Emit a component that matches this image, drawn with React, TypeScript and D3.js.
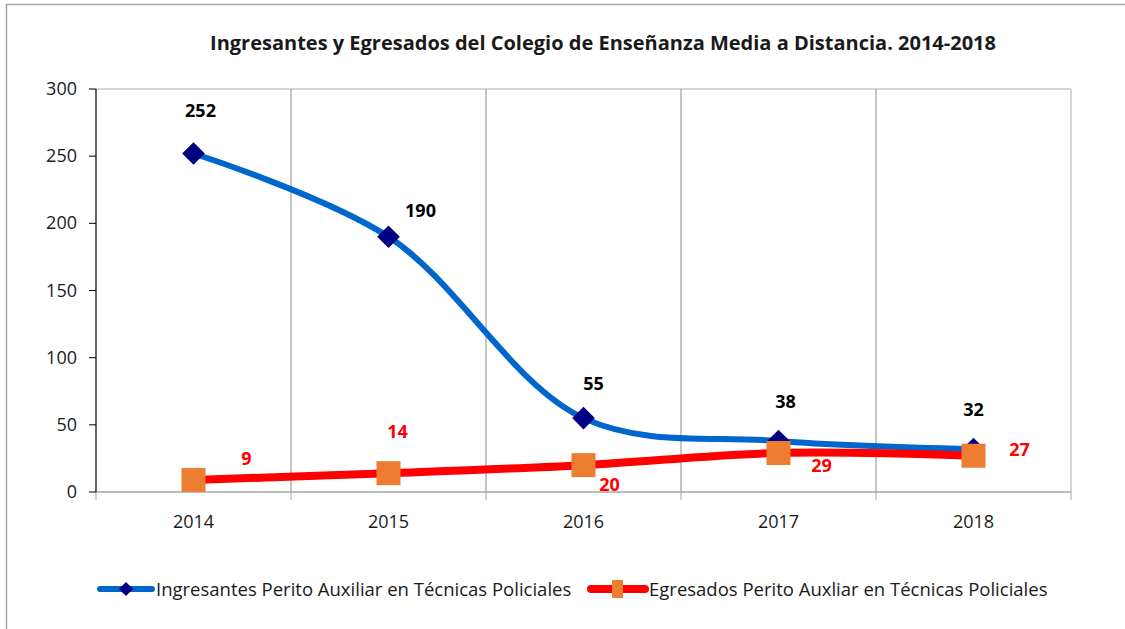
import React from "react";
import * as d3 from "d3";

const years = ["2014", "2015", "2016", "2017", "2018"];
const ingresantes = [252, 190, 55, 38, 32];
const egresados = [9, 14, 20, 29, 27];
const yTicks = [0, 50, 100, 150, 200, 250, 300];
const titleText = "Ingresantes y Egresados del Colegio de Enseñanza Media a Distancia. 2014-2018";
const legendIngresantes = "Ingresantes Perito Auxiliar en Técnicas Policiales";
const legendEgresados = "Egresados Perito Auxliar en Técnicas Policiales";

// label offsets (px) relative to the point
const ingLabelOffsets: [number, number][] = [[7, -36], [32, -20], [10, -28], [7, -33], [0, -33]];
const egrLabelOffsets: [number, number][] = [[53, -15], [9, -35], [26, 26], [43, 19], [46, 0]];

const W = 1125, H = 629;
const L = 96, R = 1071, T = 89, B = 492;
const FONT = "'Open Sans', Lato, sans-serif";

export default function App() {
  const x = d3.scaleBand().domain(years).range([L, R]).padding(0);
  const y = d3.scaleLinear().domain([0, 300]).range([B, T]);
  const cx = (yr: string) => (x(yr) as number) + x.bandwidth() / 2;

  const line = d3.line<[number, number]>().x(d => d[0]).y(d => d[1]).curve(d3.curveCatmullRom.alpha(0.5));
  const ingPts: [number, number][] = years.map((yr, i) => [cx(yr), y(ingresantes[i])]);
  const egrPts: [number, number][] = years.map((yr, i) => [cx(yr), y(egresados[i])]);
  const boundaries = d3.range(years.length + 1).map(i => L + i * x.bandwidth());

  return (
    <svg width={W} height={H} style={{ position: "absolute", left: 0, top: 0, background: "#fff" }}>
      <rect x={6.5} y={4.5} width={1130} height={640} fill="#fff" stroke="#a6a6a6" strokeWidth={1.5} />
      <text x={603} y={50} textAnchor="middle" fontFamily={FONT} fontWeight="bold" fontSize={20} fill="#1a1a1a">{titleText}</text>

      {/* plot border */}
      <line x1={L} y1={T} x2={R} y2={T} stroke="#c8c8c8" strokeWidth={1.5} />
      <line x1={R} y1={T} x2={R} y2={B} stroke="#c8c8c8" strokeWidth={1.5} />
      {boundaries.slice(1, -1).map((bx, i) => (
        <line key={i} x1={bx} y1={T} x2={bx} y2={B} stroke="#8c8c8c" strokeWidth={1} />
      ))}

      {/* x axis */}
      <line x1={L} y1={B} x2={R} y2={B} stroke="#a6a6a6" strokeWidth={1.5} />
      {boundaries.map((bx, i) => (
        <line key={i} x1={bx} y1={B} x2={bx} y2={B + 8} stroke="#a6a6a6" strokeWidth={1} />
      ))}
      {years.map(yr => (
        <text key={yr} x={cx(yr)} y={528} textAnchor="middle" fontFamily={FONT} fontSize={18} fill="#1a1a1a">{yr}</text>
      ))}

      {/* y axis */}
      <line x1={L} y1={T} x2={L} y2={B} stroke="#000" strokeWidth={1.2} />
      {yTicks.map(t => (
        <g key={t}>
          <line x1={L - 7} y1={y(t)} x2={L} y2={y(t)} stroke="#000" strokeWidth={1} />
          <text x={L - 19} y={y(t) + 6} textAnchor="end" fontFamily={FONT} fontSize={18} fill="#1a1a1a">{t}</text>
        </g>
      ))}

      {/* series */}
      <path d={line(ingPts) || ""} fill="none" stroke="#0066CC" strokeWidth={6} strokeLinecap="round" />
      <path d={line(egrPts) || ""} fill="none" stroke="#FF0000" strokeWidth={8} strokeLinecap="round" />
      {ingPts.map(([px, py], i) => (
        <rect key={i} x={px - 8} y={py - 8} width={16} height={16} fill="#000080" transform={`rotate(45 ${px} ${py})`} />
      ))}
      {egrPts.map(([px, py], i) => (
        <rect key={i} x={px - 12} y={py - 12} width={24} height={24} fill="#ED7D31" />
      ))}

      {ingPts.map(([px, py], i) => (
        <text key={i} x={px + ingLabelOffsets[i][0]} y={py + ingLabelOffsets[i][1]} textAnchor="middle" fontFamily={FONT} fontWeight="bold" fontSize={18} fill="#000">{ingresantes[i]}</text>
      ))}
      {egrPts.map(([px, py], i) => (
        <text key={i} x={px + egrLabelOffsets[i][0]} y={py + egrLabelOffsets[i][1]} textAnchor="middle" fontFamily={FONT} fontWeight="bold" fontSize={18} fill="#FF0000">{egresados[i]}</text>
      ))}

      {/* legend */}
      <line x1={100} y1={589} x2={152} y2={589} stroke="#0066CC" strokeWidth={6} strokeLinecap="round" />
      <rect x={121} y={584} width={10} height={10} fill="#000080" transform="rotate(45 126 589)" />
      <text x={156} y={596} fontFamily={FONT} fontSize={18.5} fill="#1a1a1a">{legendIngresantes}</text>
      <line x1={591} y1={589} x2={645} y2={589} stroke="#FF0000" strokeWidth={8} strokeLinecap="round" />
      <rect x={612} y={580} width={11} height={18} fill="#ED7D31" />
      <text x={649} y={596} fontFamily={FONT} fontSize={18.5} fill="#1a1a1a">{legendEgresados}</text>
    </svg>
  );
}
